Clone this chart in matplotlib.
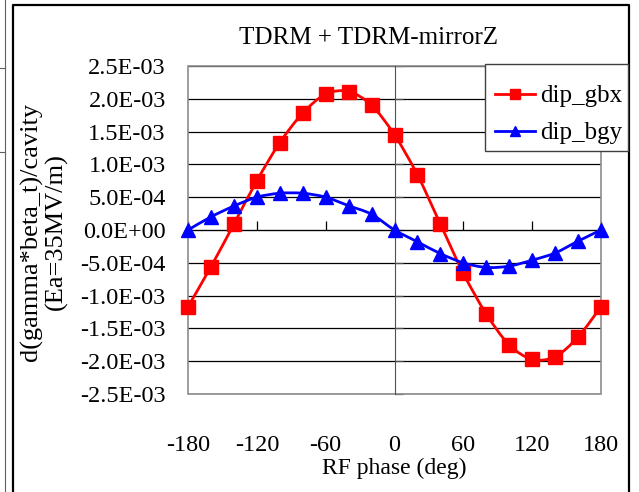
import matplotlib
matplotlib.use("Agg")
import matplotlib.pyplot as plt
import numpy as np
from matplotlib.path import Path
from matplotlib.patches import PathPatch, Rectangle
from matplotlib.lines import Line2D
from matplotlib.ticker import FuncFormatter

plt.rcParams['font.family'] = ['Liberation Serif', 'DejaVu Serif']
plt.rcParams['axes.unicode_minus'] = False

# RF phase (deg)
phase = [-180, -160, -140, -120, -100, -80, -60, -40, -20, 0,
         20, 40, 60, 80, 100, 120, 140, 160, 180]
# d(gamma*beta_t)/cavity
dip_gbx = [-1.17e-3, -5.6e-4, 9e-5, 7.5e-4, 1.33e-3, 1.78e-3, 2.07e-3, 2.11e-3, 1.90e-3, 1.45e-3,
           8.4e-4, 9e-5, -6.6e-4, -1.28e-3, -1.75e-3, -1.97e-3, -1.93e-3, -1.63e-3, -1.17e-3]
dip_bgy = [0.0, 2.0e-4, 3.65e-4, 5.0e-4, 5.6e-4, 5.6e-4, 5.0e-4, 3.7e-4, 2.4e-4, 0.0,
           -1.8e-4, -3.6e-4, -5.0e-4, -5.7e-4, -5.5e-4, -4.6e-4, -3.5e-4, -1.7e-4, 0.0]
xticks = [-180, -120, -60, 0, 60, 120, 180]
yticks = [i * 5e-4 for i in range(-5, 6)]


def smooth_path(xs, ys):
    # excel-like smoothed line: catmull-rom segments as cubic beziers
    p = np.column_stack([xs, ys]).astype(float)
    p_ext = np.vstack([p[0], p, p[-1]])
    verts = [p[0]]
    codes = [Path.MOVETO]
    for i in range(1, len(p_ext) - 2):
        c1 = p_ext[i] + (p_ext[i + 1] - p_ext[i - 1]) / 6
        c2 = p_ext[i + 1] - (p_ext[i + 2] - p_ext[i]) / 6
        verts += [c1, c2, p_ext[i + 1]]
        codes += [Path.CURVE4] * 3
    return Path(verts, codes)


fig = plt.figure(figsize=(6.39, 4.92), dpi=100)
ax = fig.add_axes([188/639, 1 - 394/492, 413/639, 328/492])

ax.set_xlim(-180, 180)
ax.set_ylim(-2.5e-3, 2.5e-3)

for ys, col, mk in [(dip_gbx, 'red', 's'), (dip_bgy, 'blue', '^')]:
    ax.add_patch(PathPatch(smooth_path(phase, ys), fill=False, edgecolor=col, lw=2, zorder=3))
    ax.plot(phase, ys, mk, color=col, ms=9.5, ls='none', zorder=4, clip_on=False)

# gridlines + plot area border
ax.set_yticks(yticks)
ax.set_xticks(xticks)
ax.set_axisbelow(True)
ax.yaxis.grid(True, color='black', lw=0.9)
ax.add_patch(Rectangle((0, 0), 1, 1, transform=ax.transAxes, fill=False,
                       ec='#8c8c8c', lw=1.2, zorder=2, clip_on=False))
ax.spines['left'].set_visible(False)
ax.spines['bottom'].set_visible(False)

# axis lines crossing at zero
ax.spines['right'].set_position(('data', 0))
ax.spines['right'].set_color('#505050')
ax.spines['top'].set_position(('data', 0))
ax.spines['top'].set_color('black')
ax.spines['right'].set_zorder(2.6)
ax.spines['top'].set_zorder(2.6)

ax.tick_params(axis='y', left=False, right=True, labelleft=True, labelright=False,
               direction='out', length=6, width=0.9, color='#505050', pad=10, labelsize=17.5)
ax.tick_params(axis='x', bottom=False, top=True, labelbottom=True, labeltop=False,
               direction='out', length=6.5, width=0.9, color='black', pad=23, labelsize=17.5)
ax.yaxis.set_major_formatter(FuncFormatter(lambda v, pos: f"{v:.1E}"))
ax.set_xlabel("RF phase (deg)", fontsize=17, labelpad=1)

fig.text(368.5/639, 1 - 44/492, "TDRM + TDRM-mirrorZ", fontsize=18, ha='center', va='baseline')
fig.text(44/639, 1 - 232/492, "d(gamma*beta_t)/cavity\n(Ea=35MV/m)", fontsize=19,
         rotation=90, ha='center', va='center', multialignment='center', linespacing=1.1)

# legend box drawn separately so the rows sit where the reference has them
fig.add_artist(Rectangle((485/639, 1 - 151/492), 143/639, 87/492, facecolor='white',
                         ec='#404040', lw=1.0, transform=fig.transFigure, zorder=4))
handles = [Line2D([], [], color='red', marker='s', lw=2, ms=9.5),
           Line2D([], [], color='blue', marker='^', lw=2, ms=9.5)]
leg = fig.legend(handles, ['dip_gbx', 'dip_bgy'], loc='upper left',
                 bbox_to_anchor=(486/639, 1 - 76/492), bbox_transform=fig.transFigure,
                 fontsize=18, frameon=False, borderaxespad=0, borderpad=0.35,
                 handlelength=1.6, handletextpad=0.2, labelspacing=0.58, markerscale=0.75)

# outer chart frame and neighbouring cell lines
fig.add_artist(Line2D([13/639, 13/639, 629/639, 629/639], [0, 1 - 5/492, 1 - 5/492, 0],
                      color='black', lw=1.6))
fig.add_artist(Line2D([5/639, 5/639], [0, 1], color='#606060', lw=0.8))
for yy in [68, 152]:
    fig.add_artist(Line2D([0, 5/639], [1 - yy/492, 1 - yy/492], color='#606060', lw=0.8))

fig.savefig("out.png", dpi=100)
